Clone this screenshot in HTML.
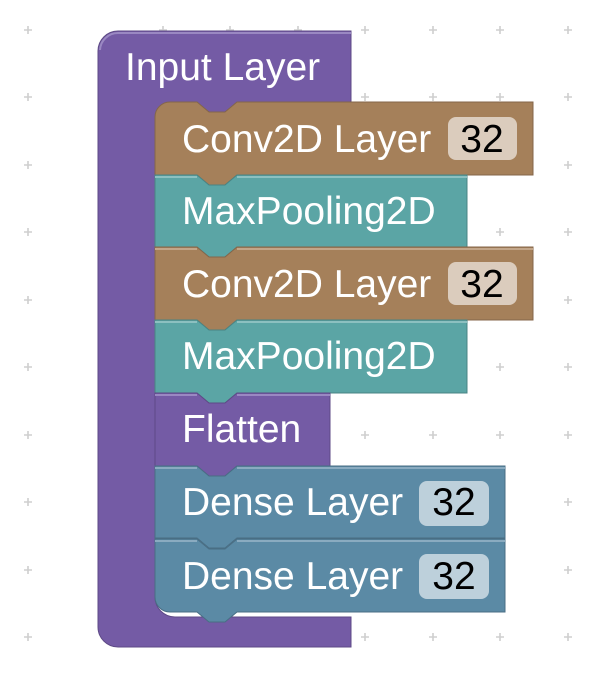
<!DOCTYPE html>
<html><head><style>
html,body{margin:0;padding:0;background:#fff;}
svg{display:block;}
text{font-family:"Liberation Sans",Arial,sans-serif;font-size:39px;}
</style></head><body>
<svg width="594" height="676" viewBox="0 0 594 676" xmlns="http://www.w3.org/2000/svg">
<g stroke="#cfcfcf" stroke-width="1.6">
<path d="M24 30h8M28 26v8 M24 97h8M28 93v8 M24 165h8M28 161v8 M24 232h8M28 228v8 M24 300h8M28 296v8 M24 367h8M28 363v8 M24 435h8M28 431v8 M24 502h8M28 498v8 M24 570h8M28 566v8 M24 637h8M28 633v8"/>
<path d="M159 30h8M163 26v8 M226 30h8M230 26v8 M294 30h8M298 26v8 M361 30h8M365 26v8 M429 30h8M433 26v8 M496 30h8M500 26v8 M564 30h8M568 26v8"/>
<path d="M361 97h8M365 93v8 M429 97h8M433 93v8 M496 97h8M500 93v8 M564 97h8M568 93v8"/>
<path d="M564 165h8M568 161v8 M496 232h8M500 228v8 M564 232h8M568 228v8 M564 300h8M568 296v8 M496 367h8M500 363v8 M564 367h8M568 363v8"/>
<path d="M361 435h8M365 431v8 M429 435h8M433 431v8 M496 435h8M500 431v8 M564 435h8M568 431v8"/>
<path d="M564 502h8M568 498v8 M564 570h8M568 566v8"/>
<path d="M361 637h8M365 633v8 M429 637h8M433 633v8 M496 637h8M500 633v8 M564 637h8M568 633v8"/>
</g>
<!-- outer purple C block -->
<path d="M118 31 H351 V102 H175 A20 20 0 0 0 155 122 V597 A20 20 0 0 0 175 617 H351 V647 H118 A20 20 0 0 1 98 627 V51 A20 20 0 0 1 118 31 Z" fill="#745ba5" stroke="#5e4a86" stroke-width="1"/>
<rect x="170" y="100" width="180" height="16" fill="#745ba5"/>
<path d="M100 50 A18 18 0 0 1 118 33 H351" fill="none" stroke="#9a88c2" stroke-width="2"/>
<text x="125" y="80" fill="#fff">Input Layer</text>

<!-- Conv2D 1 -->
<path d="M170 102 H197 l12 10 h16 l12 -10 H533 V175 H237 l-12 10 h-16 l-12 -10 H155 V117 A15 15 0 0 1 170 102 Z" fill="#a5805a" stroke="#84664a" stroke-width="1"/>
<rect x="448" y="117" width="69" height="43" rx="8" fill="#dbccbd"/>
<text x="182" y="152" fill="#fff">Conv2D Layer</text>
<text x="482" y="152" fill="#000" text-anchor="middle">32</text>

<!-- MaxPool 1 -->
<path d="M155 175 H197 l12 10 h16 l12 -10 H467 V247 H237 l-12 10 h-16 l-12 -10 H155 Z" fill="#5ba5a5" stroke="#498484" stroke-width="1"/>
<path d="M155 177 H197 M237 177 H467" stroke="#8cc0c0" stroke-width="2"/>
<text x="182" y="224" fill="#fff">MaxPooling2D</text>

<!-- Conv2D 2 -->
<path d="M155 247 H197 l12 10 h16 l12 -10 H533 V320 H237 l-12 10 h-16 l-12 -10 H155 Z" fill="#a5805a" stroke="#84664a" stroke-width="1"/>
<path d="M155 249 H197 M237 249 H533" stroke="#c3a689" stroke-width="2"/>
<rect x="448" y="262" width="69" height="43" rx="8" fill="#dbccbd"/>
<text x="182" y="297" fill="#fff">Conv2D Layer</text>
<text x="482" y="297" fill="#000" text-anchor="middle">32</text>

<!-- MaxPool 2 -->
<path d="M155 320 H197 l12 10 h16 l12 -10 H467 V393 H237 l-12 10 h-16 l-12 -10 H155 Z" fill="#5ba5a5" stroke="#498484" stroke-width="1"/>
<path d="M155 322 H197 M237 322 H467" stroke="#8cc0c0" stroke-width="2"/>
<text x="182" y="369" fill="#fff">MaxPooling2D</text>

<!-- Flatten -->
<path d="M155 393 H197 l12 10 h16 l12 -10 H330 V466 H237 l-12 10 h-16 l-12 -10 H155 Z" fill="#745ba5" stroke="#5e4a86" stroke-width="1"/>
<path d="M155 395 H197 M237 395 H330" stroke="#9a88c2" stroke-width="2"/>
<text x="182" y="442" fill="#fff">Flatten</text>

<!-- Dense 1 -->
<path d="M155 466 H197 l12 10 h16 l12 -10 H505 V538 H237 l-12 10 h-16 l-12 -10 H155 Z" fill="#5b8aa5" stroke="#496e84" stroke-width="1"/>
<path d="M155 468 H197 M237 468 H505" stroke="#8aabc0" stroke-width="2"/>
<rect x="419" y="481" width="70" height="45" rx="8" fill="#bdd0db"/>
<text x="182" y="515" fill="#fff">Dense Layer</text>
<text x="454" y="515" fill="#000" text-anchor="middle">32</text>

<!-- Dense 2 -->
<path d="M155 539 H197 l12 10 h16 l12 -10 H505 V612 H237 l-12 10 h-16 l-12 -10 H170 A15 15 0 0 1 155 597 Z" fill="#5b8aa5" stroke="#496e84" stroke-width="1"/>
<path d="M155 541 H197 M237 541 H505" stroke="#8aabc0" stroke-width="2"/>
<rect x="419" y="554" width="70" height="45" rx="8" fill="#bdd0db"/>
<text x="182" y="589" fill="#fff">Dense Layer</text>
<text x="454" y="589" fill="#000" text-anchor="middle">32</text>
</svg>
</body></html>
